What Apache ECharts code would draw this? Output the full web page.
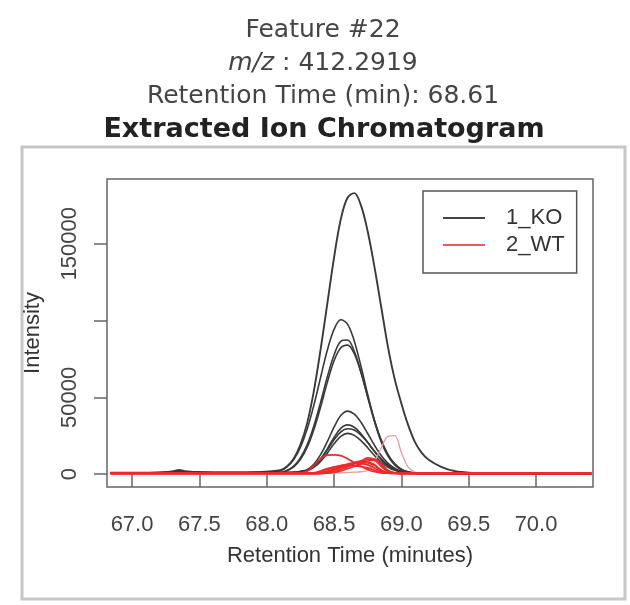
<!DOCTYPE html>
<html>
<head>
<meta charset="utf-8">
<script src="https://cdn.jsdelivr.net/npm/echarts@6/dist/echarts.min.js"></script>
<style>html,body{margin:0;padding:0;background:#fff;}#c{width:630px;height:605px;}</style>
</head>
<body>
<div id="c"></div>
<script>
// Retention times (minutes)
const times = [66.84, 67.2, 67.3, 67.35, 67.4, 67.6, 67.9, 68.1, 68.15, 68.2, 68.25, 68.3, 68.35, 68.4, 68.45, 68.5, 68.55, 68.6, 68.65, 68.7, 68.75, 68.8, 68.85, 68.9, 68.95, 69.0, 69.05, 69.1, 69.15, 69.2, 69.3, 69.4, 69.5, 69.7, 70.0, 70.41];
// 1_KO samples
const koA = [800, 1000, 1600, 2000, 1500, 1000, 1200, 2500, 5000, 10000, 19000, 33000, 54000, 81000, 111000, 141000, 166000, 180000, 183000, 175000, 158000, 135000, 109000, 83000, 62000, 46000, 32000, 21000, 14000, 9500, 4500, 1800, 900, 500, 300, 300];
const koB = [700, 900, 1800, 2800, 1800, 1000, 1000, 2100, 4600, 9300, 17300, 29100, 44800, 62900, 80600, 94200, 100500, 97700, 86700, 70200, 51900, 34900, 21500, 12100, 6200, 2900, 1300, 700, 500, 400, 300, 300, 300, 300, 300, 300];
const koC = [600, 800, 1200, 1500, 1200, 900, 800, 1000, 2400, 5200, 10500, 19000, 31300, 46700, 63300, 77600, 86500, 87300, 80000, 66400, 50000, 34200, 21200, 11900, 6100, 2800, 1200, 600, 400, 300, 300, 300, 300, 300, 300, 300];
const koC2 = [600, 700, 1000, 1300, 1000, 800, 800, 900, 2100, 4600, 9400, 17300, 28900, 43600, 59700, 73800, 82300, 84000, 78500, 66000, 50500, 35100, 22300, 12800, 6800, 3200, 1400, 700, 400, 300, 300, 300, 300, 300, 300, 300];
const koD = [600, 800, 1300, 1600, 1300, 900, 900, 1000, 1000, 1000, 1800, 2900, 6400, 12600, 21100, 30500, 38100, 41000, 39000, 33700, 26400, 18800, 12100, 7100, 3800, 1800, 1000, 600, 400, 300, 300, 300, 300, 300, 300, 300];
const koE = [500, 700, 1100, 1400, 1100, 800, 800, 900, 900, 1000, 1500, 2200, 5000, 9800, 16400, 23800, 29700, 32000, 30500, 26300, 20600, 14700, 9400, 5500, 2900, 1400, 800, 500, 400, 300, 300, 300, 300, 300, 300, 300];
const koF = [500, 700, 1000, 1200, 1000, 800, 800, 900, 1000, 1200, 1700, 2500, 5300, 9700, 15600, 22300, 27500, 29500, 28700, 25400, 20500, 15000, 10000, 6000, 3300, 1600, 900, 500, 400, 300, 300, 300, 300, 300, 300, 300];
const koG = [500, 600, 900, 1100, 900, 700, 700, 800, 900, 1000, 1400, 2000, 4300, 8200, 13600, 19700, 24600, 26500, 25200, 21800, 17100, 12100, 7800, 4600, 2400, 1200, 700, 500, 400, 300, 300, 300, 300, 300, 300, 300];
// 2_WT samples
const wt1 = [500, 500, 500, 500, 500, 500, 500, 500, 500, 500, 500, 500, 500, 500, 600, 700, 800, 1000, 1200, 1500, 2500, 8000, 17000, 24500, 25000, 14000, 4500, 1200, 600, 500, 500, 400, 400, 400, 400, 400];
const wt2 = [600, 600, 600, 600, 600, 600, 600, 600, 600, 700, 800, 2000, 5500, 10000, 12300, 12500, 12000, 10000, 7500, 5000, 3000, 1500, 800, 600, 500, 500, 500, 500, 500, 500, 500, 500, 500, 500, 500, 500];
const wt3 = [400, 400, 400, 400, 400, 400, 400, 400, 400, 400, 400, 400, 400, 500, 1200, 2500, 4000, 5500, 7000, 8500, 10500, 9500, 5000, 1500, 600, 400, 400, 400, 400, 400, 400, 400, 400, 400, 400, 400];
const wt4 = [500, 500, 500, 500, 500, 500, 500, 500, 500, 500, 500, 500, 500, 800, 2000, 3500, 5000, 6500, 7500, 8500, 8000, 6000, 2500, 800, 500, 500, 500, 500, 500, 500, 500, 500, 500, 500, 500, 500];
const wt5 = [500, 500, 500, 500, 500, 500, 500, 500, 500, 500, 500, 500, 700, 1500, 3000, 4500, 5500, 6200, 7000, 6800, 6000, 4000, 1500, 600, 500, 500, 500, 500, 500, 500, 500, 500, 500, 500, 500, 500];
const wt6 = [400, 400, 400, 400, 400, 400, 400, 400, 400, 400, 400, 400, 800, 2000, 3500, 4500, 5200, 5500, 5300, 4800, 4000, 2500, 1000, 500, 400, 400, 400, 400, 400, 400, 400, 400, 400, 400, 400, 400];
const wt7 = [300, 300, 300, 300, 300, 300, 300, 300, 300, 300, 300, 300, 300, 300, 500, 1000, 2000, 3500, 5000, 6500, 8500, 9000, 6000, 2000, 700, 300, 300, 300, 300, 300, 300, 300, 300, 300, 300, 300];
const wt8 = [400, 400, 400, 400, 400, 400, 400, 400, 400, 400, 400, 400, 400, 600, 1500, 3000, 4500, 6000, 7000, 7500, 7200, 5500, 2500, 800, 400, 400, 400, 400, 400, 400, 400, 400, 400, 400, 400, 400];
const wt9 = [300, 300, 300, 300, 300, 300, 300, 300, 300, 300, 300, 300, 300, 400, 800, 1800, 3000, 4800, 6500, 8000, 9500, 9800, 7000, 2500, 800, 300, 300, 300, 300, 300, 300, 300, 300, 300, 300, 300];

const xTicks = [67.0, 67.5, 68.0, 68.5, 69.0, 69.5, 70.0];
const yTicks = [0, 50000, 100000, 150000];
const yLabels = [0, 50000, 150000];
const groupNames = ['1_KO', '2_WT'];
const titleLines = ['Feature #22', 'm/z', ' : 412.2919', 'Retention Time (min): 68.61', 'Extracted Ion Chromatogram'];

const koList = [koA, koB, koC, koC2, koD, koE, koF, koG];
const wtRed = [wt2, wt3, wt4, wt5, wt6, wt7, wt8, wt9];

function mk(arr, name, color, width) {
  return {
    type: 'line', name: name, data: times.map((t, i) => [t, arr[i]]),
    showSymbol: false, symbol: 'none', smooth: 0.35, silent: true,
    lineStyle: { color: color, width: width }, itemStyle: { color: color },
    emphasis: { disabled: true }
  };
}
const series = [];
koList.forEach((a, i) => series.push(mk(a, groupNames[0], '#3a3a3a', i === 0 ? 1.9 : 1.6)));
series.push(mk(wt1, groupNames[1], '#f29a9a', 1.3));
wtRed.forEach(a => series.push(mk(a, groupNames[1], '#ee2a2a', 1.7)));

const tFont = 'DejaVu Sans';
const chart = echarts.init(document.getElementById('c'), null, { renderer: 'canvas' });
chart.setOption({
  animation: false,
  backgroundColor: '#fff',
  graphic: [
    { type: 'rect', shape: { x: 22, y: 147, width: 603, height: 452 }, style: { fill: 'none', stroke: '#c6c6c6', lineWidth: 3 } },
    { type: 'text', style: { text: titleLines[0], x: 323, y: 30, align: 'center', verticalAlign: 'middle', fontFamily: tFont, fontSize: 25, fill: '#444' } },
    { type: 'text', style: { text: '{i|' + titleLines[1] + '}{n|' + titleLines[2] + '}', x: 323, y: 63, align: 'center', verticalAlign: 'middle', fontFamily: tFont, fontSize: 25, fill: '#444',
        rich: { i: { fontFamily: tFont, fontSize: 25, fontStyle: 'italic', fill: '#444' }, n: { fontFamily: tFont, fontSize: 25, fill: '#444' } } } },
    { type: 'text', style: { text: titleLines[3], x: 323, y: 96, align: 'center', verticalAlign: 'middle', fontFamily: tFont, fontSize: 25, fill: '#444' } },
    { type: 'text', style: { text: titleLines[4], x: 324, y: 130, align: 'center', verticalAlign: 'middle', fontFamily: tFont, fontSize: 27, fontWeight: 'bold', fill: '#222' } }
  ],
  legend: {
    data: [{ name: groupNames[0], itemStyle: { color: '#444' } }, { name: groupNames[1], itemStyle: { color: '#ee5566' } }],
    orient: 'vertical', left: 423, top: 191,
    icon: 'rect', itemWidth: 42, itemHeight: 2, itemGap: 5,
    padding: [16, 12, 17, 20],
    borderColor: '#555', borderWidth: 1.5,
    selectedMode: false,
    textStyle: { fontFamily: 'Liberation Sans', fontSize: 22, color: '#333', lineHeight: 22, padding: [0, 0, 0, 16] }
  },
  grid: { left: 107, top: 179, right: 37, bottom: 118, show: true, borderColor: '#666', borderWidth: 1.5, containLabel: false },
  xAxis: {
    type: 'value', min: 66.814, max: 70.423,
    name: 'Retention Time (minutes)', nameLocation: 'middle', nameGap: 58,
    nameTextStyle: { fontFamily: 'Liberation Sans', fontSize: 22, color: '#333' },
    axisLine: { show: false },
    axisTick: { show: true, inside: false, length: 13, lineStyle: { color: '#666', width: 1.5 }, customValues: xTicks },
    axisLabel: { fontFamily: 'Liberation Sans', fontSize: 22, color: '#444', margin: 27, customValues: xTicks, formatter: v => v.toFixed(1) },
    splitLine: { show: false }
  },
  yAxis: {
    type: 'value', min: -8442, max: 192208,
    name: 'Intensity', nameLocation: 'middle', nameGap: 63, nameRotate: 90,
    nameTextStyle: { fontFamily: 'Liberation Sans', fontSize: 22, color: '#333' },
    axisLine: { show: false },
    axisTick: { show: true, inside: false, length: 13, lineStyle: { color: '#666', width: 1.5 }, customValues: yTicks },
    axisLabel: { fontFamily: 'Liberation Sans', fontSize: 22, color: '#444', margin: 26, rotate: 90, customValues: yLabels, formatter: v => String(v) },
    splitLine: { show: false }
  },
  series: series
});
</script>
</body>
</html>
